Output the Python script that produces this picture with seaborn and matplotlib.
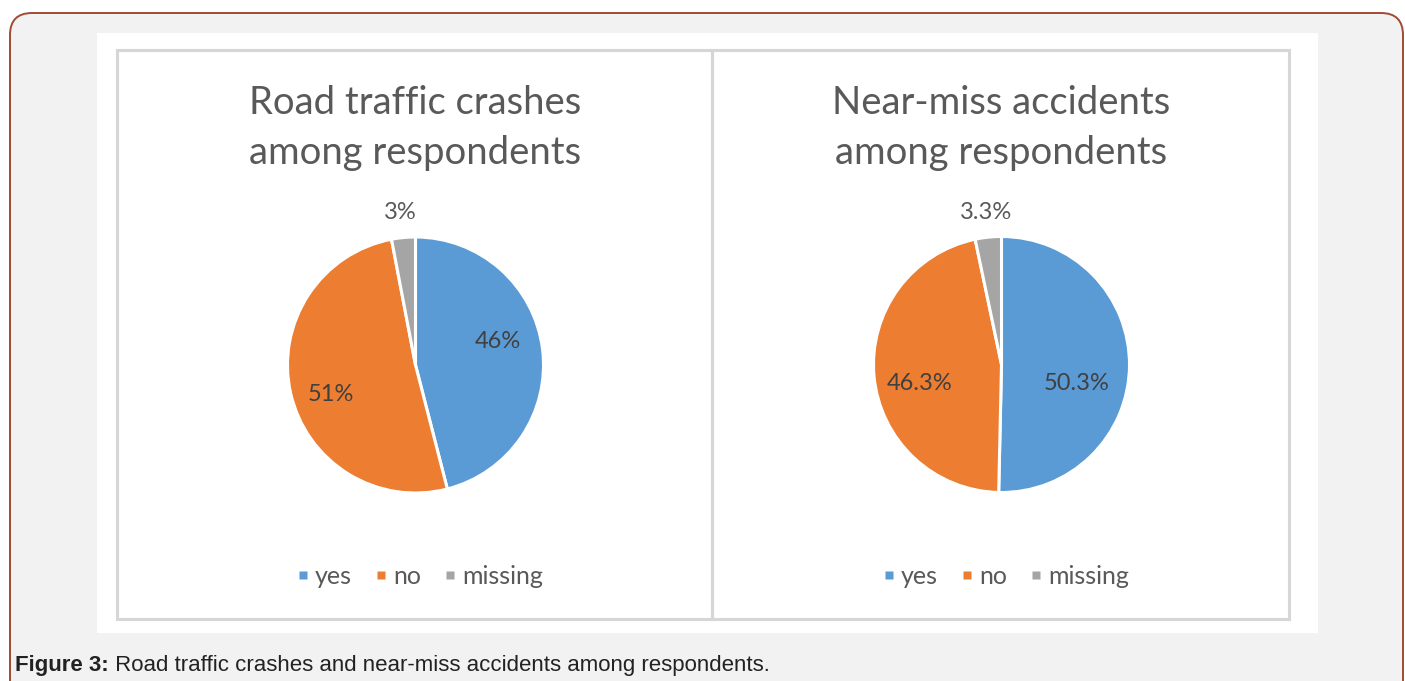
import matplotlib
matplotlib.use("Agg")
import matplotlib.pyplot as plt
from matplotlib.patches import Rectangle, FancyBboxPatch
from matplotlib.lines import Line2D
import seaborn as sns

# ---------------- data ----------------
categories = ["yes", "no", "missing"]
crash_values = [46, 51, 3]
nearmiss_values = [50.3, 46.3, 3.3]
titles = ["Road traffic crashes\namong respondents",
          "Near-miss accidents\namong respondents"]
caption_bold = "Figure 3:"
caption_text = " Road traffic crashes and near-miss accidents among respondents."

# ---------------- style ----------------
sns.set_theme(style="white")
palette = sns.color_palette(["#5B9BD5", "#ED7D31", "#A5A5A5"])
plt.rcParams["font.family"] = ["Lato", "DejaVu Sans"]

W, H = 1405, 681
fig = plt.figure(figsize=(W / 100, H / 100), dpi=100, facecolor="white")


def fx(x):
    return x / W


def fy(y):
    return 1 - y / H


# outer rounded frame (pixel coordinates, y up)
frame = FancyBboxPatch((10, -40), 1393, H - 13 + 40,
                       boxstyle="round,pad=0,rounding_size=22",
                       transform=None, facecolor="#f2f2f2",
                       edgecolor="#a04a33", linewidth=1.4, zorder=-3)
fig.patches.append(frame)

# white chart area
fig.patches.append(Rectangle((fx(97), fy(633)), fx(1318) - fx(97), fy(33) - fy(633),
                             transform=fig.transFigure, facecolor="white",
                             edgecolor="none", zorder=-2))
# panel borders
for x0, x1 in [(117, 712), (712, 1289)]:
    fig.patches.append(Rectangle((fx(x0), fy(619)), fx(x1) - fx(x0), fy(50) - fy(619),
                                 transform=fig.transFigure, facecolor="none",
                                 edgecolor="#d6d6d6", linewidth=2.2, zorder=-1))

# layout (pixel positions of pie centres, radius, label offsets in radius units)
pies = [
    dict(values=crash_values, cx=415.5, cy=365, r=128,
         offsets=[(0.64, 0.18), (-0.66, -0.23), (-0.12, 1.19)]),
    dict(values=nearmiss_values, cx=1001.5, cy=364.5, r=128,
         offsets=[(0.59, -0.145), (-0.64, -0.145), (-0.12, 1.19)]),
]

for i, p in enumerate(pies):
    cx, cy, r = p["cx"], p["cy"], p["r"]
    ax = fig.add_axes([fx(cx - r), fy(cy + r), 2 * r / W, 2 * r / H])
    ax.set_zorder(5)
    ax.pie(p["values"], colors=palette, startangle=90, counterclock=False,
           wedgeprops=dict(edgecolor="white", linewidth=2.2))
    ax.set_xlim(-1, 1)
    ax.set_ylim(-1, 1)
    ax.axis("off")
    for v, (ox, oy), j in zip(p["values"], p["offsets"], range(3)):
        ax.text(ox, oy, f"{v:g}%", ha="center", va="center", fontsize=17,
                color="#404040" if j < 2 else "#595959", clip_on=False)

    # title
    fig.text(fx(cx), fy(128), titles[i], ha="center", va="center",
             fontsize=27.5, color="#595959", linespacing=1.45)

    # legend
    handles = [Line2D([], [], marker="s", linestyle="none", markersize=5.2,
                      markerfacecolor=c, markeredgecolor="none") for c in palette]
    fig.legend(handles, categories, loc="center",
               bbox_to_anchor=(fx(cx + 5), fy(576)), ncol=3, frameon=False,
               fontsize=18, labelcolor="#595959", handletextpad=0.3,
               columnspacing=0.95, handlelength=0.4)

# caption
t1 = fig.text(fx(15), fy(666), caption_bold, ha="left", va="center",
              fontsize=16, fontweight="bold", color="#222222",
              family=["Liberation Sans", "DejaVu Sans"])
fig.canvas.draw()
bb = t1.get_window_extent()
fig.text(bb.x1 / W, fy(666), caption_text, ha="left", va="center",
         fontsize=16, color="#222222", family=["Liberation Sans", "DejaVu Sans"])

fig.savefig("out.png", dpi=100, facecolor="white")
